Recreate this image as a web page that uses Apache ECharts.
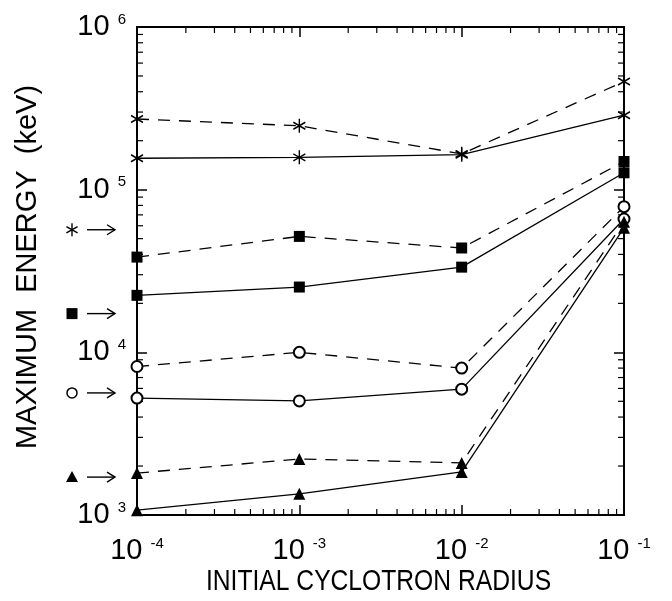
<!DOCTYPE html>
<html><head><meta charset="utf-8">
<script src="https://cdn.jsdelivr.net/npm/echarts@6/dist/echarts.min.js"></script>
<style>html,body{margin:0;padding:0;background:#fff}#c{width:672px;height:601px}</style>
</head><body><div id="c"></div>
<script>
// ---- data ----
const radii = [1e-4, 1e-3, 1e-2, 1e-1];
const starSolid    = [1.56e5, 1.58e5, 1.64e5, 2.87e5];
const starDashed   = [2.72e5, 2.47e5, 1.66e5, 4.62e5];
const squareSolid  = [2.24e4, 2.52e4, 3.34e4, 1.27e5];
const squareDashed = [3.85e4, 5.16e4, 4.38e4, 1.49e5];
const circleSolid  = [5.23e3, 5.03e3, 5.94e3, 6.6e4];
const circleDashed = [8.18e3, 1.0e4, 8.0e3, 7.86e4];
const triSolid     = [1.07e3, 1.35e3, 1.84e3, 5.83e4];
const triDashed    = [1.81e3, 2.21e3, 2.09e3, 6.35e4];
// levels marked by arrows at the left (star, square, circle, triangle)
const arrowLevels = [5.67e4, 1.73e4, 5.63e3, 1.71e3];
const arrowKinds  = ['star', 'square', 'circle', 'triangle'];
const xMin = 1e-4, xMax = 1e-1, yMin = 1e3, yMax = 1e6;
const xDecades = [-4, -3, -2];
const yDecades = [3, 4, 5];
const minorMultipliers = [2, 3, 4, 5, 6, 7, 8, 9];
const xTitle = 'INITIAL CYCLOTRON RADIUS';
const yTitle = 'MAXIMUM  ENERGY  (keV)';

(function () {
const chart = echarts.init(document.getElementById('c'), null, {renderer: 'canvas'});
const FONT = 'Liberation Sans';
const STAR = 'path://M0,-10L0,10M-8.66,-5L8.66,5M-8.66,5L8.66,-5';

function pts(vals) { return radii.map((r, i) => [r, vals[i]]); }
function expLabel(v) { return '{b|10 }{s|' + Math.round(Math.log10(v)) + '}'; }
const rich = {
  b: {fontFamily: FONT, fontSize: 29, lineHeight: 30, color: '#000'},
  s: {fontFamily: FONT, fontSize: 15, lineHeight: 9, color: '#000', verticalAlign: 'top'}
};
const axisLine = {show: true, lineStyle: {color: '#000', width: 2}};
const axisTick = {show: true, inside: true, length: 10, lineStyle: {color: '#000', width: 1.5}};

function series(vals, symbol, dashed, size) {
  const s = {
    type: 'line', data: pts(vals), symbol: symbol, symbolSize: size,
    clip: false, animation: false, z: 3,
    lineStyle: {color: '#000', width: 1.3, type: dashed ? [12, 9] : 'solid'},
    itemStyle: {color: '#000'}
  };
  if (symbol === STAR) s.itemStyle = {color: '#000', borderColor: '#000', borderWidth: 1.5};
  if (symbol === 'emptyCircle') s.itemStyle = {color: '#000', borderWidth: 1.5};
  return s;
}

chart.setOption({
  animation: false,
  backgroundColor: '#fff',
  grid: {left: 137, right: 48, top: 27, bottom: 86, containLabel: false},
  xAxis: [
    {type: 'log', logBase: 10, min: xMin, max: xMax, position: 'bottom',
     axisLine, axisTick, splitLine: {show: false},
     axisLabel: {formatter: expLabel, rich, margin: 21}},
    {type: 'log', logBase: 10, min: xMin, max: xMax, position: 'top',
     axisLine, axisTick, splitLine: {show: false}, axisLabel: {show: false}}
  ],
  yAxis: [
    {type: 'log', logBase: 10, min: yMin, max: yMax, position: 'left',
     axisLine, axisTick, splitLine: {show: false},
     axisLabel: {formatter: expLabel, rich, margin: 11}},
    {type: 'log', logBase: 10, min: yMin, max: yMax, position: 'right',
     axisLine, axisTick, splitLine: {show: false}, axisLabel: {show: false}}
  ],
  series: [
    series(starDashed, STAR, true, [12, 14]),
    series(starSolid, STAR, false, [12, 14]),
    series(squareDashed, 'rect', true, 11),
    series(squareSolid, 'rect', false, 11),
    series(circleDashed, 'emptyCircle', true, 11),
    series(circleSolid, 'emptyCircle', false, 11),
    series(triDashed, 'triangle', true, 12),
    series(triSolid, 'triangle', false, 12)
  ]
});

const g = [];
const px = v => chart.convertToPixel({xAxisIndex: 0}, v);
const py = v => chart.convertToPixel({yAxisIndex: 0}, v);
const gl = px(xMin), gr = px(xMax), gt = py(yMax), gb = py(yMin);
const minorLen = 6;
const tickStyle = {stroke: '#000', lineWidth: 1.2};
xDecades.forEach(d => minorMultipliers.forEach(m => {
  const x = px(m * Math.pow(10, d));
  g.push({type: 'line', silent: true, shape: {x1: x, y1: gb, x2: x, y2: gb - minorLen}, style: tickStyle});
  g.push({type: 'line', silent: true, shape: {x1: x, y1: gt, x2: x, y2: gt + minorLen}, style: tickStyle});
}));
yDecades.forEach(d => minorMultipliers.forEach(m => {
  const y = py(m * Math.pow(10, d));
  g.push({type: 'line', silent: true, shape: {x1: gl, y1: y, x2: gl + minorLen, y2: y}, style: tickStyle});
  g.push({type: 'line', silent: true, shape: {x1: gr, y1: y, x2: gr - minorLen, y2: y}, style: tickStyle});
}));

const sx = 72;
arrowLevels.forEach((lv, i) => {
  const y = py(lv);
  const kind = arrowKinds[i];
  const ls = {stroke: '#000', lineWidth: 1.4, fill: null};
  if (kind === 'star') {
    g.push({type: 'line', silent: true, shape: {x1: sx, y1: y - 6.5, x2: sx, y2: y + 6.5}, style: ls});
    g.push({type: 'line', silent: true, shape: {x1: sx - 5.6, y1: y - 3.2, x2: sx + 5.6, y2: y + 3.2}, style: ls});
    g.push({type: 'line', silent: true, shape: {x1: sx - 5.6, y1: y + 3.2, x2: sx + 5.6, y2: y - 3.2}, style: ls});
  } else if (kind === 'square') {
    g.push({type: 'rect', silent: true, shape: {x: sx - 5.5, y: y - 5.5, width: 11, height: 11}, style: {fill: '#000'}});
  } else if (kind === 'circle') {
    g.push({type: 'circle', silent: true, shape: {cx: sx, cy: y, r: 5}, style: {stroke: '#000', lineWidth: 1.5, fill: '#fff'}});
  } else {
    g.push({type: 'polygon', silent: true, shape: {points: [[sx, y - 6], [sx - 6, y + 5], [sx + 6, y + 5]]}, style: {fill: '#000'}});
  }
  g.push({type: 'line', silent: true, shape: {x1: 87, y1: y, x2: 115, y2: y}, style: ls});
  g.push({type: 'polyline', silent: true, shape: {points: [[107, y - 5], [115, y], [107, y + 5]]}, style: ls});
});

g.push({type: 'text', silent: true, x: (gl + gr) / 2 - 2, y: 582, scaleX: 0.85,
  style: {text: xTitle, font: '29px "Liberation Sans"', fill: '#000', textAlign: 'center', textVerticalAlign: 'middle'}});
g.push({type: 'text', silent: true, x: 28, y: (gt + gb) / 2 - 4, rotation: Math.PI / 2,
  style: {text: yTitle, font: '29px "Liberation Sans"', fill: '#000', textAlign: 'center', textVerticalAlign: 'middle'}});

chart.setOption({graphic: g});
})();
</script>
</body></html>
